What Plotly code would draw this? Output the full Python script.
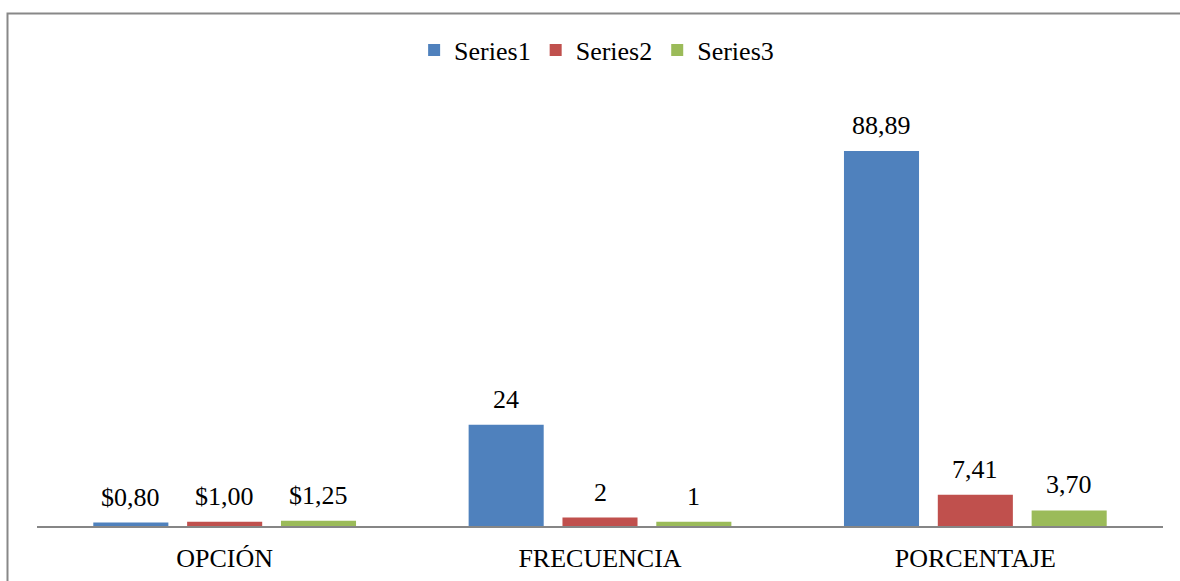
import plotly.graph_objects as go

# Chart data
categories = ["OPCIÓN", "FRECUENCIA", "PORCENTAJE"]
series_names = ["Series1", "Series2", "Series3"]
series1 = [0.80, 24, 88.89]
series2 = [1.00, 2, 7.41]
series3 = [1.25, 1, 3.70]
labels1 = ["$0,80", "24", "88,89"]
labels2 = ["$1,00", "2", "7,41"]
labels3 = ["$1,25", "1", "3,70"]

colors = ["#4F81BD", "#C0504D", "#9BBB59"]
FONT = "'Liberation Serif', 'Times New Roman', Times, serif"
SIZE = 26

values = [series1, series2, series3]
labels = [labels1, labels2, labels3]
x_idx = list(range(len(categories)))

fig = go.Figure()
for name, vals, col in zip(series_names, values, colors):
    fig.add_trace(go.Bar(x=x_idx, y=vals, name=name, marker=dict(color=col, line=dict(width=0))))

# Grouped layout: slot per series = (1 - bargap) / n_series
bargap = 0.25
n = len(series_names)
slot = (1 - bargap) / n
for j, (vals, txts) in enumerate(zip(values, labels)):
    off = (j - (n - 1) / 2) * slot
    for i, (v, t) in enumerate(zip(vals, txts)):
        fig.add_annotation(x=i + off, y=v, text=t, showarrow=False,
                           yanchor="bottom", yshift=9,
                           font=dict(family=FONT, size=SIZE, color="#000000"))

# Outer chart frame
fig.add_shape(type="rect", xref="paper", yref="paper",
              x0=-0.0262, x1=1.2, y0=-0.5, y1=1.2145,
              line=dict(color="#888888", width=2), fillcolor="rgba(0,0,0,0)", layer="below")

fig.update_layout(
    width=1180, height=581,
    margin=dict(l=37, r=17, t=104, b=55, autoexpand=False),
    paper_bgcolor="white", plot_bgcolor="white",
    barmode="group", bargap=bargap, bargroupgap=0.2,
    font=dict(family=FONT, size=SIZE, color="#000000"),
    showlegend=True,
    legend=dict(orientation="h", x=0.497, xanchor="center", y=1.128, yanchor="middle",
                font=dict(family=FONT, size=SIZE), itemwidth=30, traceorder="normal"),
    xaxis=dict(tickmode="array", tickvals=x_idx, ticktext=categories, automargin=False,
               range=[-0.5, 2.5], showline=True, linecolor="#868686", linewidth=1.5,
               showgrid=False, zeroline=False, ticks="outside", ticklen=8, tickcolor="rgba(0,0,0,0)",
               tickfont=dict(family=FONT, size=SIZE)),
    yaxis=dict(range=[0, 100], visible=False, showgrid=False, zeroline=False, automargin=False),
)

fig.write_html("out.html")
